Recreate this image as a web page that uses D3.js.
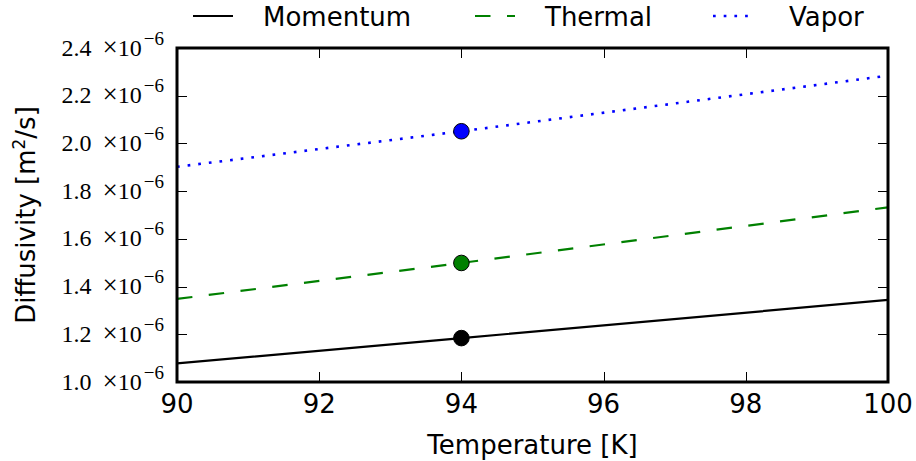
<!DOCTYPE html>
<html>
<head>
<meta charset="utf-8">
<script src="https://cdn.jsdelivr.net/npm/d3@7"></script>
<style>
  html, body { margin: 0; padding: 0; background: #fff; }
  svg { display: block; }
</style>
</head>
<body>
<svg id="chart" width="916" height="461"></svg>
<script>
// Diffusivities of the gas as functions of temperature
const temperature = [90, 94, 100];               // K
const momentum    = [1.078, 1.184, 1.344];       // ×1e-6 m²/s
const thermal     = [1.348, 1.499, 1.732];
const vapor       = [1.902, 2.051, 2.284];

// Highlighted operating point
const pointT      = 94;
const pointValues = [1.184, 1.499, 2.051];

const seriesNames = ["Momentum", "Thermal", "Vapor"];
const xTicks      = [90, 92, 94, 96, 98, 100];
const yTicks      = [1.0, 1.2, 1.4, 1.6, 1.8, 2.0, 2.2, 2.4];
const yExponent   = "−6";

const svg = d3.select("#chart");
const plotLeft = 177, plotRight = 888, plotTop = 48, plotBottom = 382;

const x = d3.scaleLinear().domain([90, 100]).range([plotLeft, plotRight]);
const y = d3.scaleLinear().domain([1.0, 2.4]).range([plotBottom, plotTop]);

const styles = [
  { color: "#000000", width: 2.2, dash: null },
  { color: "#008000", width: 2.2, dash: "15.5,16.5" },
  { color: "#0000ff", width: 2.6, dash: "2.7,8" }
];
const allSeries = [momentum, thermal, vapor];

svg.append("defs").append("clipPath").attr("id", "plotClip")
  .append("rect").attr("x", plotLeft).attr("y", plotTop)
  .attr("width", plotRight - plotLeft).attr("height", plotBottom - plotTop);

const plot = svg.append("g").attr("clip-path", "url(#plotClip)");

const line = d3.line().x(d => x(d[0])).y(d => y(d[1]));

allSeries.forEach((vals, i) => {
  const pts = temperature.map((t, j) => [t, vals[j]]);
  plot.append("path")
    .attr("d", line(pts))
    .attr("fill", "none")
    .attr("stroke", styles[i].color)
    .attr("stroke-width", styles[i].width)
    .attr("stroke-dasharray", styles[i].dash)
    .attr("stroke-linecap", "butt");
});

pointValues.forEach((v, i) => {
  svg.append("circle")
    .attr("cx", x(pointT))
    .attr("cy", y(v))
    .attr("r", 7.8)
    .attr("fill", styles[i].color)
    .attr("stroke", "#000")
    .attr("stroke-width", 1);
});

// Ticks pointing inward on all four sides
const ticks = svg.append("g").attr("stroke", "#000").attr("stroke-width", 1);
const tickLen = 10;
xTicks.forEach(t => {
  const px = Math.round(x(t)) + 0.5;
  ticks.append("line").attr("x1", px).attr("x2", px).attr("y1", plotBottom).attr("y2", plotBottom - tickLen);
  ticks.append("line").attr("x1", px).attr("x2", px).attr("y1", plotTop).attr("y2", plotTop + tickLen);
});
yTicks.forEach(t => {
  const py = Math.round(y(t)) + 0.5;
  ticks.append("line").attr("x1", plotLeft).attr("x2", plotLeft + tickLen).attr("y1", py).attr("y2", py);
  ticks.append("line").attr("x1", plotRight).attr("x2", plotRight - tickLen).attr("y1", py).attr("y2", py);
});

// Frame
svg.append("rect")
  .attr("x", plotLeft).attr("y", plotTop)
  .attr("width", plotRight - plotLeft).attr("height", plotBottom - plotTop)
  .attr("fill", "none").attr("stroke", "#000").attr("stroke-width", 3);

const sans = "'DejaVu Sans', sans-serif";
const serif = "'Liberation Serif', 'DejaVu Serif', serif";

// X tick labels
svg.append("g").selectAll("text").data(xTicks).join("text")
  .attr("x", d => x(d))
  .attr("y", 413)
  .attr("text-anchor", "middle")
  .attr("font-family", sans)
  .attr("font-size", 26)
  .text(d => d);

// Y tick labels in scientific notation
const yl = svg.append("g").selectAll("text").data(yTicks).join("text")
  .attr("x", 164)
  .attr("y", d => y(d) + 7.5)
  .attr("text-anchor", "end")
  .attr("font-family", serif)
  .attr("font-size", 24)
  .attr("fill", "#000");
yl.append("tspan").text(d => d3.format(".1f")(d));
yl.append("tspan").attr("dx", 11).attr("font-size", 27).text("×");
yl.append("tspan").text("10");
yl.append("tspan").attr("dx", 2).attr("dy", -11).attr("font-size", 19).text(yExponent);

// Axis titles
svg.append("text")
  .attr("x", (plotLeft + plotRight) / 2)
  .attr("y", 454)
  .attr("text-anchor", "middle")
  .attr("font-family", sans)
  .attr("font-size", 26)
  .text("Temperature [K]");

const yt = svg.append("text")
  .attr("transform", `translate(35, ${(plotTop + plotBottom) / 2}) rotate(-90)`)
  .attr("text-anchor", "middle")
  .attr("font-family", sans)
  .attr("font-size", 26);
yt.append("tspan").text("Diffusivity [m");
yt.append("tspan").attr("dy", -10).attr("font-size", 17).text("2");
yt.append("tspan").attr("dy", 10).text("/s]");

// Legend across the top
const legendLineX = [193, 475, 713];
const legendTextX = [263, 545, 789];
const legend = svg.append("g");
seriesNames.forEach((name, i) => {
  legend.append("line")
    .attr("x1", legendLineX[i]).attr("x2", legendLineX[i] + 40)
    .attr("y1", 16).attr("y2", 16)
    .attr("stroke", styles[i].color)
    .attr("stroke-width", styles[i].width)
    .attr("stroke-dasharray", styles[i].dash);
  legend.append("text")
    .attr("x", legendTextX[i])
    .attr("y", 26)
    .attr("font-family", sans)
    .attr("font-size", 26)
    .text(name);
});
</script>
</body>
</html>
